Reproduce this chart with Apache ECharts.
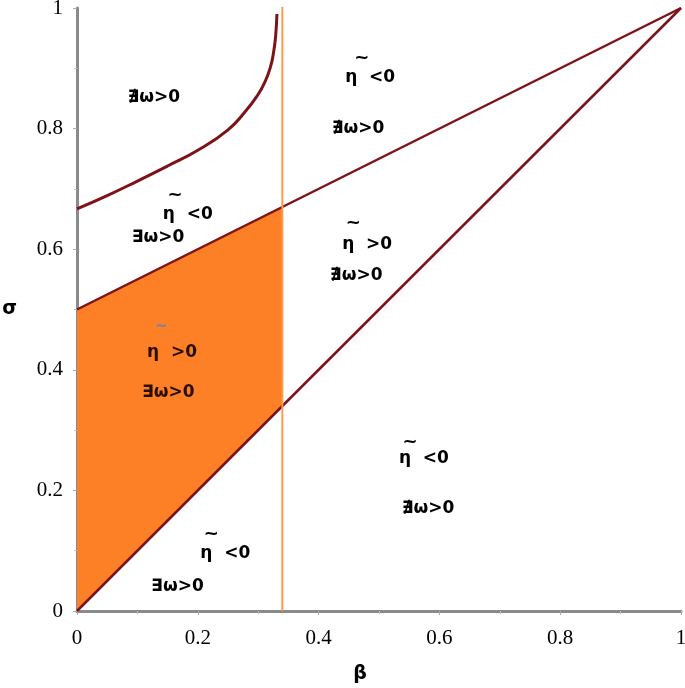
<!DOCTYPE html>
<html>
<head>
<meta charset="utf-8">
<script src="https://cdn.jsdelivr.net/npm/echarts@6/dist/echarts.min.js"></script>
<style>
  html, body { margin: 0; padding: 0; background: #fff; }
  #main { width: 685px; height: 688px; }
</style>
</head>
<body>
<div id="main"></div>
<script>
// boundary lines (beta, sigma)
var upperLine = [[0, 0.5], [1, 1]];
var diagLine = [[0, 0], [1, 1]];
// curve
var curvePts = [[0, 0.667], [0.05, 0.689], [0.1, 0.713], [0.15, 0.738], [0.2, 0.764],
  [0.25, 0.798], [0.28, 0.83], [0.3, 0.857], [0.31, 0.875], [0.32, 0.901],
  [0.326, 0.93], [0.329, 0.955], [0.331, 0.99]];
var betaCut = 0.34;
// orange region corners
var fillLower = [[0, 0], [0.34, 0.34]];
var fillUpper = [[0.34, 0.67], [0, 0.5]];

// region labels: [beta, sigma, text]  (left edge, middle)
var etaLabels = [
  [0.444, 0.884, 'η  <0'],
  [0.142, 0.657, 'η  <0'],
  [0.439, 0.608, 'η  >0'],
  [0.533, 0.252, 'η  <0'],
  [0.204, 0.096, 'η  <0']
];
var etaOrange = [[0.116, 0.429, 'η  >0']];
var tildeLabels = [
  [0.459, 0.917], [0.150, 0.690], [0.445, 0.643], [0.539, 0.28], [0.210, 0.127]
];
var tildeOrange = [[0.129, 0.47]];
var omegaLabels = [
  [0.084, 0.851, '∄ω>0'],
  [0.422, 0.800, '∄ω>0'],
  [0.091, 0.619, '∃ω>0'],
  [0.419, 0.556, '∄ω>0'],
  [0.538, 0.170, '∄ω>0'],
  [0.123, 0.041, '∃ω>0']
];
var omegaOrange = [[0.108, 0.363, '∃ω>0']];

var maroon = '#7d1318';
var chart = echarts.init(document.getElementById('main'));

function textSeries(items, color, size, tilde) {
  return {
    type: 'scatter',
    symbolSize: 0,
    silent: true,
    z: 10,
    itemStyle: {color: color, opacity: 1},
    data: items.map(function (d) { return {value: [d[0], d[1]], txt: tilde ? '~' : d[2]}; }),
    label: {
      show: true,
      position: 'right',
      distance: 0,
      formatter: function (p) { return p.data.txt; },
      fontFamily: 'DejaVu Sans',
      fontWeight: 'bold',
      fontSize: size,
      opacity: 1,
      color: color
    }
  };
}

var option = {
  backgroundColor: '#ffffff',
  animation: false,
  grid: {left: 77, right: 4, top: 8, bottom: 77, outerBoundsMode: 'none', containLabel: false},
  xAxis: {
    type: 'value', min: 0, max: 1, interval: 0.2,
    name: 'β', nameLocation: 'middle', nameGap: 54,
    nameTextStyle: {fontFamily: 'DejaVu Sans', fontWeight: 'bold', fontSize: 19, color: '#000', padding: [0, 38, 0, 0]},
    axisLine: {lineStyle: {color: '#8a8a8a', width: 3}},
    axisTick: {show: true, length: 4, lineStyle: {color: '#aaa'}},
    minorTick: {show: true, splitNumber: 2, length: 3, lineStyle: {color: '#bbb'}},
    splitLine: {show: false},
    axisLabel: {margin: 17, fontFamily: 'Liberation Serif', fontSize: 21, color: '#000'}
  },
  yAxis: {
    type: 'value', min: 0, max: 1, interval: 0.2,
    name: 'σ', nameLocation: 'middle', nameGap: 60, nameRotate: 0,
    nameTextStyle: {fontFamily: 'DejaVu Sans', fontWeight: 'bold', fontSize: 19, color: '#000'},
    axisLine: {lineStyle: {color: '#8a8a8a', width: 3}},
    axisTick: {show: true, length: 4, lineStyle: {color: '#aaa'}},
    minorTick: {show: true, splitNumber: 2, length: 3, lineStyle: {color: '#bbb'}},
    splitLine: {show: false},
    axisLabel: {margin: 14, fontFamily: 'Liberation Serif', fontSize: 21, color: '#000'}
  },
  series: [
    {
      type: 'custom',
      silent: true,
      z: 1,
      data: [0],
      renderItem: function (params, api) {
        var pts = fillLower.concat(fillUpper).map(function (p) { return api.coord(p); });
        return {type: 'polygon', shape: {points: pts}, style: {fill: '#fd7f26'}};
      }
    },
    {type: 'line', data: upperLine, showSymbol: false, lineStyle: {color: maroon, width: 2.5}, z: 3},
    {type: 'line', data: diagLine, showSymbol: false, lineStyle: {color: maroon, width: 2.5}, z: 3},
    {type: 'line', data: curvePts, smooth: true, showSymbol: false, lineStyle: {color: maroon, width: 3}, z: 3},
    {type: 'line', data: [[betaCut, 0], [betaCut, 1.005]], showSymbol: false, lineStyle: {color: '#f99b4b', width: 2}, z: 4},
    textSeries(etaLabels, '#000000', 17, false),
    textSeries(etaOrange, '#2a0e02', 17, false),
    textSeries(omegaLabels, '#000000', 17, false),
    textSeries(omegaOrange, '#2a0e02', 17, false),
    textSeries(tildeLabels, '#000000', 18, true),
    textSeries(tildeOrange, '#6a86b0', 15, true)
  ]
};
chart.setOption(option);
</script>
</body>
</html>
